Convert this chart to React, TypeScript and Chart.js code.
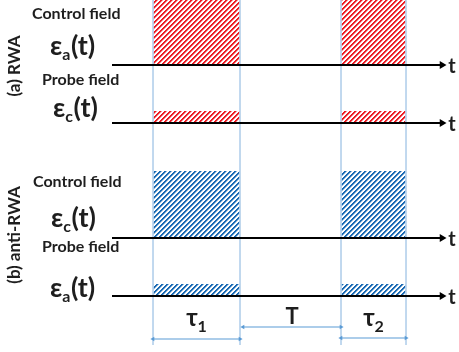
import React, { useEffect, useRef } from "react";
import { Chart, registerables } from "chart.js";

Chart.register(...registerables);

// time values (arbitrary units)
const pulseStarts = [0, 9.4];
const pulseEnds = [4.35, 12.65];
const axisStart = -2.05;
const axisEnd = 14.45;
const xMin = -7.65;
const xMax = 15.3;

// vertical layout units
const rowNames = ["RWA control", "RWA probe", "anti-RWA control", "anti-RWA probe"];
const rowBaselines = [287, 229, 114, 56];
const rowAmplitudes = [75, 12, 67, 12];
const rowColors = ["#ec1c24", "#ec1c24", "#1a6ab4", "#1a6ab4"];
const yMin = 0;
const yMax = 352;
const guideBottom = 7;
const arrowLevels = [13, 25, 14]; // tau1, T, tau2
const arrowLabels = ["τ1", "T", "τ2"];

function makePattern(color: string): CanvasPattern | string {
  const c = document.createElement("canvas");
  const n = 5;
  c.width = n;
  c.height = n;
  const ctx = c.getContext("2d");
  if (!ctx) return color;
  ctx.fillStyle = "#ffffff";
  ctx.fillRect(0, 0, n, n);
  ctx.fillStyle = color;
  for (let x = 0; x < n; x++) {
    for (let y = 0; y < n; y++) {
      const k = (x + y) % n;
      if (k < 2) {
        ctx.globalAlpha = 1;
        ctx.fillRect(x, y, 1, 1);
      } else if (k === 2) {
        ctx.globalAlpha = 0.45;
        ctx.fillRect(x, y, 1, 1);
      }
    }
  }
  ctx.globalAlpha = 1;
  return ctx.createPattern(c, "repeat") || color;
}

export default function App() {
  const ref = useRef<HTMLCanvasElement | null>(null);
  useEffect(() => {
    if (!ref.current) return;
    const datasets: any[] = [];
    // pulses
    rowBaselines.forEach((base, r) => {
      const pat = makePattern(rowColors[r]);
      pulseStarts.forEach((s, p) => {
        const e = pulseEnds[p];
        const top = base + rowAmplitudes[r];
        datasets.push({
          label: rowNames[r] + " pulse " + (p + 1),
          data: [
            { x: s, y: base },
            { x: s, y: top },
            { x: e, y: top },
            { x: e, y: base },
          ],
          showLine: true,
          borderWidth: 0,
          borderColor: "rgba(0,0,0,0)",
          backgroundColor: pat,
          fill: { value: base },
          pointRadius: 0,
          tension: 0,
          order: 3,
        });
      });
    });
    // guide lines
    const guideXs = [pulseStarts[0], pulseEnds[0], pulseStarts[1], pulseEnds[1]];
    guideXs.forEach((gx) => {
      datasets.push({
        label: "guide",
        data: [
          { x: gx, y: yMax },
          { x: gx, y: guideBottom },
        ],
        showLine: true,
        borderColor: "#b9d3ec",
        borderWidth: 1,
        pointRadius: 0,
        fill: false,
        order: 1,
      });
    });
    // time axes
    rowBaselines.forEach((base) => {
      datasets.push({
        label: "axis",
        data: [
          { x: axisStart, y: base },
          { x: axisEnd, y: base },
        ],
        showLine: true,
        borderColor: "#000000",
        backgroundColor: "#000000",
        borderWidth: 2.2,
        pointRadius: [0, 4.5],
        pointStyle: "triangle",
        rotation: 90,
        pointBorderWidth: 0,
        fill: false,
        order: 0,
      });
    });
    // duration arrows
    const spans = [
      [pulseStarts[0], pulseEnds[0]],
      [pulseEnds[0] + 0.15, pulseStarts[1]],
      [pulseStarts[1], pulseEnds[1]],
    ];
    spans.forEach((sp, i) => {
      datasets.push({
        label: arrowLabels[i],
        data: [
          { x: sp[0], y: arrowLevels[i] },
          { x: sp[1], y: arrowLevels[i] },
        ],
        showLine: true,
        borderColor: "#5b9bd5",
        backgroundColor: "#5b9bd5",
        borderWidth: 1.2,
        pointRadius: 2.6,
        pointStyle: "triangle",
        rotation: [-90, 90],
        pointBorderWidth: 0,
        fill: false,
        order: 0,
      });
    });

    const font = "Lato, 'Open Sans', sans-serif";
    const drawEps = (ctx: CanvasRenderingContext2D, x: number, y: number, sub: string) => {
      ctx.textAlign = "left";
      ctx.textBaseline = "alphabetic";
      ctx.font = `bold 27px ${font}`;
      ctx.fillText("ε", x, y);
      let w = ctx.measureText("ε").width;
      ctx.font = `bold 16px ${font}`;
      ctx.fillText(sub, x + w, y + 5);
      w += ctx.measureText(sub).width + 0.5;
      ctx.font = `bold 27px ${font}`;
      ctx.fillText("(t)", x + w, y);
    };
    const textPlugin = {
      id: "labels",
      afterDraw(chart: any) {
        const ctx: CanvasRenderingContext2D = chart.ctx;
        const xs = chart.scales.x;
        const ys = chart.scales.y;
        ctx.save();
        ctx.fillStyle = "#1e1e1e";
        // row labels
        ctx.font = `bold 16px ${font}`;
        ctx.textBaseline = "middle";
        ctx.textAlign = "left";
        ctx.fillText("Control field", 32, 14);
        ctx.fillText("Probe field", 42, 80);
        ctx.fillText("Control field", 33, 182);
        ctx.fillText("Probe field", 42, 247);
        drawEps(ctx, 50, 55, "a");
        drawEps(ctx, 53, 117, "c");
        drawEps(ctx, 51, 227, "c");
        drawEps(ctx, 50, 297, "a");
        // rotated panel labels
        ctx.font = `bold 17px ${font}`;
        ctx.textAlign = "center";
        ctx.textBaseline = "middle";
        ctx.save();
        ctx.translate(15, 66);
        ctx.rotate(-Math.PI / 2);
        ctx.fillText("(a) RWA", 0, 0);
        ctx.restore();
        ctx.save();
        ctx.translate(15, 235);
        ctx.rotate(-Math.PI / 2);
        ctx.fillText("(b) anti-RWA", 0, 0);
        ctx.restore();
        // t labels
        ctx.font = `bold 20px ${font}`;
        ctx.textAlign = "center";
        ctx.textBaseline = "middle";
        rowBaselines.forEach((b) => {
          ctx.fillText("t", 452, ys.getPixelForValue(b) + 2);
        });
        // duration labels
        const spansMid = spans.map((s) => xs.getPixelForValue((s[0] + s[1]) / 2));
        ctx.textBaseline = "alphabetic";
        const drawTau = (cx: number, sub: string) => {
          ctx.font = `bold 24px ${font}`;
          const w1 = ctx.measureText("τ").width;
          ctx.font = `bold 16px ${font}`;
          const w2 = ctx.measureText(sub).width;
          const left = cx - (w1 + w2) / 2;
          ctx.textAlign = "left";
          ctx.font = `bold 24px ${font}`;
          ctx.fillText("τ", left, 326);
          ctx.font = `bold 16px ${font}`;
          ctx.fillText(sub, left + w1, 332);
        };
        drawTau(spansMid[0], "1");
        ctx.textAlign = "center";
        ctx.font = `bold 22px ${font}`;
        ctx.fillText("T", spansMid[1], 324);
        drawTau(spansMid[2], "2");
        ctx.restore();
      },
    };

    const chart = new Chart(ref.current, {
      type: "scatter",
      data: { datasets },
      options: {
        animation: false,
        responsive: false,
        maintainAspectRatio: false,
        layout: { padding: 0, autoPadding: false },
        plugins: { legend: { display: false }, tooltip: { enabled: false } },
        scales: {
          x: { type: "linear", min: xMin, max: xMax, display: false },
          y: { type: "linear", min: yMin, max: yMax, display: false },
        },
      },
      plugins: [textPlugin],
    } as any);
    return () => chart.destroy();
  }, []);
  return (
    <div style={{ position: "fixed", left: 0, top: 0, width: 459, height: 352, background: "#fff" }}>
      <canvas ref={ref} width={459} height={352} />
    </div>
  );
}
